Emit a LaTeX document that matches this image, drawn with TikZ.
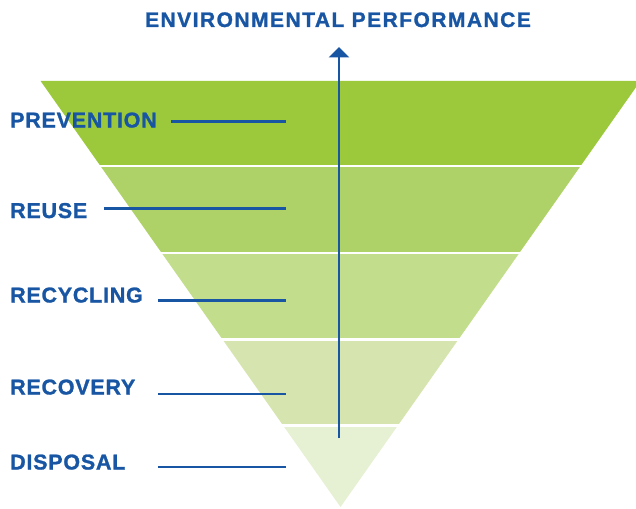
\documentclass[tikz,border=0pt]{standalone}
\usepackage{fontspec}
\setmainfont{Liberation Sans}
\newfontfamily\labfont[LetterSpace=3.5,FakeBold=1.2]{Liberation Sans}
\newfontfamily\titlefont[LetterSpace=7,FakeBold=1.2]{Liberation Sans}
\usetikzlibrary{arrows.meta}
\definecolor{bandA}{RGB}{155,201,59}
\definecolor{bandB}{RGB}{174,210,103}
\definecolor{bandC}{RGB}{194,221,139}
\definecolor{bandD}{RGB}{214,229,175}
\definecolor{bandE}{RGB}{230,240,211}
\definecolor{hblue}{RGB}{24,86,164}
\tikzset{
  lab/.style={anchor=base west, inner sep=0pt, text=hblue, font=\labfont\bfseries\fontsize{21.5}{22}\selectfont},
  ttl/.style={anchor=base, inner sep=0pt, text=hblue, font=\titlefont\bfseries\fontsize{21}{22}\selectfont},
  leader/.style={draw=hblue, line width=2.7pt},
  axisarrow/.style={draw=hblue, line width=2.8pt, -{Triangle[width=20pt,length=10.5pt]}}
}
\newcommand{\hierband}[3]{%
  \begin{scope}
    \clip (0,#1) rectangle (640,#2);
    \fill[#3] (40.6,81) -- (640.4,81) -- (340.5,507) -- cycle;
  \end{scope}}
\begin{document}
\begin{tikzpicture}[x=1pt,y=-1pt]
\useasboundingbox (0,0) rectangle (636,508);
\hierband{81}{164}{bandA}
\hierband{167}{251}{bandB}
\hierband{254}{337}{bandC}
\hierband{341}{423}{bandD}
\hierband{427}{508}{bandE}

\node[ttl] (title) at (338,27) {ENVIRONMENTAL PERFORMANCE};

\coordinate (abot) at (339,438);
\coordinate (atop) at (339,47);
\draw[axisarrow] (abot) -- (atop);

\node[lab] (prev) at (10,127.5) {PREVENTION};
\node[lab] (reuse) at (10,218) {REUSE};
\node[lab] (recyc) at (10,302.5) {RECYCLING};
\node[lab] (recov) at (10,394.5) {RECOVERY};
\node[lab] (disp) at (10,469.5) {DISPOSAL};

\coordinate (p1) at (171,121.5); \coordinate (p2) at (286,121.5);
\coordinate (r1) at (104,208.5); \coordinate (r2) at (286,208.5);
\coordinate (c1) at (158,300.5); \coordinate (c2) at (286,300.5);
\coordinate (v1) at (158,394); \coordinate (v2) at (286,394);
\coordinate (d1) at (158,467); \coordinate (d2) at (286,467);
\draw[leader] (p1) -- (p2);
\draw[leader] (r1) -- (r2);
\draw[leader] (c1) -- (c2);
\draw[leader] (v1) -- (v2);
\draw[leader] (d1) -- (d2);
\end{tikzpicture}
\end{document}
